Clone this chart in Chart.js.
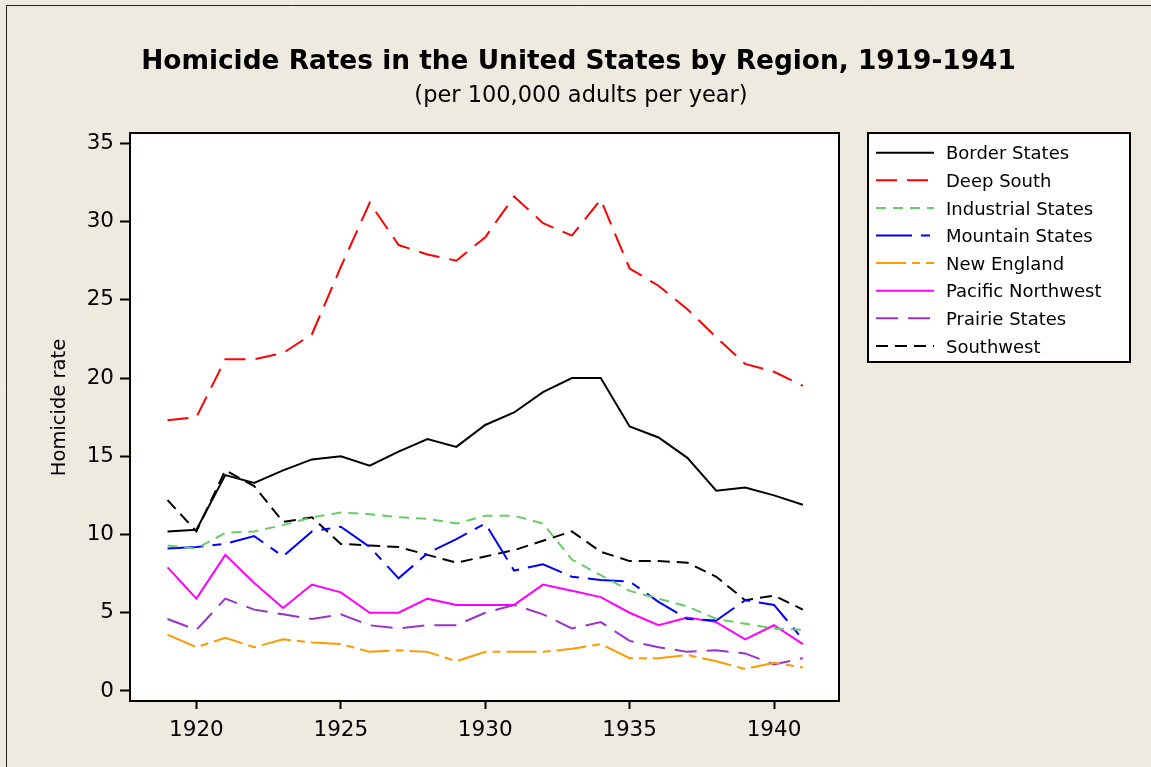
<!DOCTYPE html>
<html>
<head>
<meta charset="utf-8">
<title>Homicide Rates in the United States by Region, 1919-1941</title>
<script src="https://cdn.jsdelivr.net/npm/chart.js@4.4.1/dist/chart.umd.min.js"></script>
<style>
    html, body { margin: 0; padding: 0; background: #EEEAE0; }
    #wrap { width: 1151px; height: 767px; }
</style>
</head>
<body>
<div id="wrap"><canvas id="homicideChart" width="1151" height="767"></canvas></div>
<script>
// Data (per 100,000 adults per year)
const years = [1919, 1920, 1921, 1922, 1923, 1924, 1925, 1926, 1927, 1928, 1929, 1930,
               1931, 1932, 1933, 1934, 1935, 1936, 1937, 1938, 1939, 1940, 1941];

const borderStates = [10.2, 10.3, 13.8, 13.3, 14.1, 14.8, 15.0, 14.4, 15.3, 16.1, 15.6, 17.0,
                      17.8, 19.1, 20.0, 20.0, 16.9, 16.2, 14.9, 12.8, 13.0, 12.5, 11.9];
const deepSouth = [17.3, 17.5, 21.2, 21.2, 21.6, 22.8, 27.1, 31.2, 28.5, 27.9, 27.5, 29.0,
                   31.6, 29.9, 29.1, 31.4, 27.0, 25.9, 24.4, 22.6, 20.9, 20.4, 19.5];
const industrialStates = [9.3, 9.1, 10.1, 10.2, 10.6, 11.1, 11.4, 11.3, 11.1, 11.0, 10.7, 11.2,
                          11.2, 10.7, 8.4, 7.4, 6.4, 5.9, 5.4, 4.6, 4.3, 4.0, 3.9];
const mountainStates = [9.1, 9.2, 9.4, 9.9, 8.6, 10.2, 10.5, 9.2, 7.2, 8.8, 9.7, 10.7,
                        7.7, 8.1, 7.3, 7.1, 7.0, 5.7, 4.6, 4.5, 5.8, 5.5, 3.3];
const newEngland = [3.6, 2.8, 3.4, 2.8, 3.3, 3.1, 3.0, 2.5, 2.6, 2.5, 1.9, 2.5,
                    2.5, 2.5, 2.7, 3.0, 2.1, 2.1, 2.3, 1.9, 1.4, 1.8, 1.5];
const pacificNorthwest = [7.9, 5.9, 8.7, 6.9, 5.3, 6.8, 6.3, 5.0, 5.0, 5.9, 5.5, 5.5,
                          5.5, 6.8, 6.4, 6.0, 5.0, 4.2, 4.7, 4.4, 3.3, 4.2, 3.0];
const prairieStates = [4.6, 3.9, 5.9, 5.2, 4.9, 4.6, 4.9, 4.2, 4.0, 4.2, 4.2, 5.0,
                       5.5, 4.9, 4.0, 4.4, 3.2, 2.8, 2.5, 2.6, 2.4, 1.7, 2.1];
const southwest = [12.2, 10.2, 14.1, 13.1, 10.8, 11.1, 9.4, 9.3, 9.2, 8.7, 8.2, 8.6,
                   9.0, 9.6, 10.2, 8.9, 8.3, 8.3, 8.2, 7.3, 5.8, 6.1, 5.2];

const xTicks = [1920, 1925, 1930, 1935, 1940];
const yTicks = [0, 5, 10, 15, 20, 25, 30, 35];

const FONT = "'DejaVu Sans', Verdana, sans-serif";

// Turn a value list into {x, y} points against the years
function toPoints(values) {
    return years.map((yr, i) => ({ x: yr, y: values[i] }));
}

function series(label, values, color, dash) {
    return {
        label: label,
        data: toPoints(values),
        borderColor: color,
        backgroundColor: color,
        borderWidth: 2,
        borderDash: dash,
        pointRadius: 0,
        tension: 0,
        fill: false
    };
}

// Background, outer frame and white plot area
const backgroundPlugin = {
    id: 'background',
    beforeDraw(chart) {
        const ctx = chart.ctx;
        const area = chart.chartArea;
        ctx.save();
        ctx.fillStyle = '#EEEAE0';
        ctx.fillRect(0, 0, chart.width, chart.height);
        ctx.strokeStyle = '#222';
        ctx.lineWidth = 1;
        ctx.beginPath();
        ctx.moveTo(6.5, chart.height);
        ctx.lineTo(6.5, 5.5);
        ctx.lineTo(chart.width, 5.5);
        ctx.stroke();
        ctx.fillStyle = '#FFFFFF';
        ctx.fillRect(area.left, area.top, area.right - area.left, area.bottom - area.top);
        ctx.restore();
    }
};

// Titles, plot frame and boxed legend
const decorPlugin = {
    id: 'decor',
    afterDraw(chart) {
        const ctx = chart.ctx;
        const area = chart.chartArea;
        ctx.save();

        // frame round the plot
        ctx.strokeStyle = '#000';
        ctx.lineWidth = 2;
        ctx.setLineDash([]);
        ctx.strokeRect(area.left, area.top, area.right - area.left, area.bottom - area.top);

        // titles
        ctx.fillStyle = '#000';
        ctx.textAlign = 'center';
        ctx.textBaseline = 'alphabetic';
        ctx.font = 'bold 26.4px ' + FONT;
        ctx.fillText('Homicide Rates in the United States by Region, 1919-1941', 578.5, 69);
        ctx.font = '22.5px ' + FONT;
        ctx.fillText('(per 100,000 adults per year)', 581, 102);

        // y axis title
        ctx.save();
        ctx.translate(65, 407.5);
        ctx.rotate(-Math.PI / 2);
        ctx.font = '19.5px ' + FONT;
        ctx.fillText('Homicide rate', 0, 0);
        ctx.restore();

        // legend box
        const box = { left: 868, top: 133, right: 1130, bottom: 362 };
        ctx.fillStyle = '#FFFFFF';
        ctx.fillRect(box.left, box.top, box.right - box.left, box.bottom - box.top);
        ctx.strokeStyle = '#000';
        ctx.lineWidth = 2;
        ctx.strokeRect(box.left, box.top, box.right - box.left, box.bottom - box.top);

        ctx.textAlign = 'left';
        ctx.font = '18px ' + FONT;
        chart.data.datasets.forEach((ds, i) => {
            const y = 152.7 + i * 27.6;
            ctx.strokeStyle = ds.borderColor;
            ctx.lineWidth = 2;
            ctx.setLineDash(ds.borderDash || []);
            ctx.beginPath();
            ctx.moveTo(876, y);
            ctx.lineTo(934, y);
            ctx.stroke();
            ctx.setLineDash([]);
            ctx.fillStyle = '#000';
            ctx.fillText(ds.label, 946, y + 6.6);
        });

        ctx.restore();
    }
};

document.addEventListener('DOMContentLoaded', function() {
    const ctx = document.getElementById('homicideChart').getContext('2d');

    new Chart(ctx, {
        type: 'line',
        data: {
            datasets: [
                series('Border States', borderStates, '#000000', []),
                series('Deep South', deepSouth, '#FF0000', [21, 10]),
                series('Industrial States', industrialStates, '#66CC66', [10, 7]),
                series('Mountain States', mountainStates, '#0000FF', [36, 9, 9, 9]),
                series('New England', newEngland, '#FF9900', [30, 6, 8, 6]),
                series('Pacific Northwest', pacificNorthwest, '#FF00FF', []),
                series('Prairie States', prairieStates, '#9933CC', [22, 10]),
                series('Southwest', southwest, '#000000', [12, 7])
            ]
        },
        options: {
            responsive: false,
            animation: false,
            layout: {
                padding: { left: 70, top: 133, right: 312, bottom: 26 }
            },
            scales: {
                x: {
                    type: 'linear',
                    min: 1917.7,
                    max: 1942.25,
                    afterBuildTicks: function(scale) {
                        scale.ticks = xTicks.map(v => ({ value: v }));
                    },
                    afterFit: function(scale) {
                        scale.height = 40;
                    },
                    grid: {
                        drawOnChartArea: false,
                        drawTicks: true,
                        tickLength: 8,
                        tickWidth: 2,
                        tickColor: '#000'
                    },
                    border: { display: true, color: '#000', width: 2 },
                    ticks: {
                        color: '#000',
                        font: { family: FONT, size: 21.5 },
                        padding: 9,
                        maxRotation: 0,
                        autoSkip: false,
                        callback: v => String(v)
                    }
                },
                y: {
                    type: 'linear',
                    min: -0.64,
                    max: 35.66,
                    afterBuildTicks: function(scale) {
                        scale.ticks = yTicks.map(v => ({ value: v }));
                    },
                    afterFit: function(scale) {
                        scale.width = 60;
                    },
                    grid: {
                        drawOnChartArea: false,
                        drawTicks: true,
                        tickLength: 10,
                        tickWidth: 2,
                        tickColor: '#000'
                    },
                    border: { display: true, color: '#000', width: 2 },
                    ticks: {
                        color: '#000',
                        font: { family: FONT, size: 21.5 },
                        padding: 6,
                        autoSkip: false,
                        callback: v => String(v)
                    }
                }
            },
            plugins: {
                legend: { display: false },
                title: { display: false },
                tooltip: { enabled: false }
            }
        },
        plugins: [backgroundPlugin, decorPlugin]
    });
});
</script>
</body>
</html>
